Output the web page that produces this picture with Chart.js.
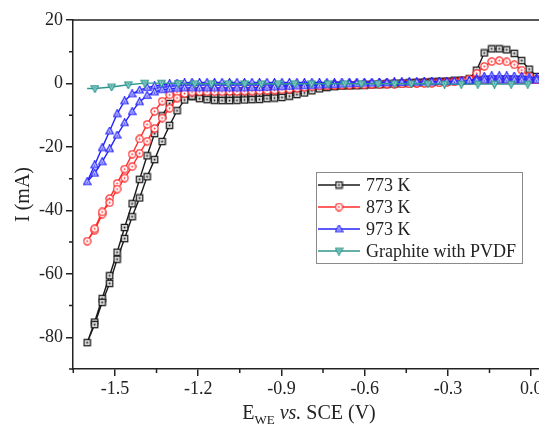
<!DOCTYPE html>
<html>
<head>
<meta charset="utf-8">
<script src="https://cdn.jsdelivr.net/npm/chart.js@4.4.1/dist/chart.umd.min.js"></script>
<style>
  html, body { margin: 0; padding: 0; background: #fff; overflow: hidden; }
  #wrap { width: 560px; height: 425px; }
</style>
</head>
<body>
<div id="wrap"><canvas id="cv" width="560" height="425"></canvas></div>
<script>
// potential grid (V vs SCE), shared by the three temperature curves
const potential = [
  -1.600, -1.573, -1.546, -1.519, -1.492, -1.465, -1.438, -1.411, -1.384, -1.357,
  -1.330, -1.303, -1.276, -1.249, -1.222, -1.195, -1.168, -1.141, -1.114, -1.087,
  -1.060, -1.033, -1.006, -0.979, -0.952, -0.925, -0.898, -0.871, -0.844, -0.817,
  -0.790, -0.763, -0.736, -0.709, -0.682, -0.655, -0.628, -0.601, -0.574, -0.547,
  -0.520, -0.493, -0.466, -0.439, -0.412, -0.385, -0.358, -0.331, -0.304, -0.277,
  -0.250, -0.223, -0.196, -0.169, -0.142, -0.115, -0.088, -0.061, -0.034, -0.007,
  0.020
];

// current (mA), cathodic sweep (fwd) and return sweep (rev)
const i773Fwd = [
  -81.7, -75.2, -67.8, -60.6, -53.2, -45.4, -37.9, -30.2, -22.8, -15.8,
  -10.2, -6.3, -4.4, -4.1, -4.0, -4.2, -4.3, -4.4, -4.4, -4.4,
  -4.3, -4.2, -4.1, -3.9, -3.6, -3.2, -2.8, -2.4, -2.0, -1.6,
  -1.3, -1.1, -0.9, -0.8, -0.7, -0.6, -0.5, -0.4, -0.3, -0.2,
  -0.1, 0.0, 0.1, 0.2, 0.3, 0.4, 0.5, 0.6, 0.7, 0.8,
  0.9, 1.0, 1.1, 1.2, 1.2, 1.3, 1.3, 1.3, 1.3, 1.2, 1.2
];
const i773Rev = [
  -81.7, -76.0, -69.0, -63.0, -55.4, -48.9, -42.0, -36.1, -29.4, -24.0,
  -18.3, -13.2, -8.6, -5.2, -4.0, -4.8, -5.1, -5.3, -5.4, -5.4,
  -5.3, -5.2, -5.1, -5.0, -4.8, -4.6, -4.4, -4.0, -3.5, -3.0,
  -2.3, -1.7, -1.3, -1.0, -0.8, -0.7, -0.6, -0.5, -0.4, -0.3,
  -0.2, -0.1, 0.0, 0.1, 0.2, 0.3, 0.4, 0.5, 0.6, 0.8,
  1.0, 1.5, 4.2, 9.6, 10.9, 10.9, 10.6, 9.5, 7.2, 4.5, 2.2
];
const i873Fwd = [
  -49.7, -46.3, -41.2, -36.3, -31.5, -27.0, -22.3, -17.5, -12.9, -8.8,
  -5.6, -3.6, -2.8, -2.4, -2.2, -2.1, -2.1, -2.1, -2.1, -2.1,
  -2.1, -2.0, -1.9, -1.8, -1.7, -1.5, -1.3, -1.1, -0.9, -0.8,
  -0.7, -0.6, -0.5, -0.4, -0.4, -0.3, -0.3, -0.2, -0.2, -0.1,
  -0.1, 0.0, 0.0, 0.1, 0.1, 0.2, 0.3, 0.4, 0.5, 0.6,
  0.7, 0.8, 1.0, 1.1, 1.1, 1.2, 1.2, 1.2, 1.2, 1.1, 1.1
];
const i873Rev = [
  -49.7, -45.8, -40.5, -37.6, -33.3, -29.8, -26.2, -22.0, -18.2, -14.2,
  -10.9, -7.8, -4.6, -3.2, -2.7, -2.6, -2.6, -2.6, -2.6, -2.5,
  -2.5, -2.4, -2.4, -2.3, -2.2, -2.1, -2.0, -1.8, -1.5, -1.2,
  -1.0, -0.8, -0.7, -0.6, -0.5, -0.5, -0.4, -0.4, -0.3, -0.3,
  -0.2, -0.2, -0.1, -0.1, 0.0, 0.0, 0.1, 0.2, 0.3, 0.5,
  0.8, 1.4, 3.2, 5.4, 6.9, 7.2, 6.8, 5.9, 4.2, 2.3, 1.2
];
const i973Fwd = [
  -31.0, -25.7, -20.3, -15.0, -9.6, -5.5, -3.3, -2.1, -1.3, -0.8,
  -0.4, -0.1, 0.1, 0.2, 0.3, 0.3, 0.3, 0.3, 0.3, 0.3,
  0.3, 0.3, 0.3, 0.3, 0.3, 0.3, 0.3, 0.3, 0.3, 0.3,
  0.3, 0.3, 0.3, 0.3, 0.4, 0.4, 0.4, 0.4, 0.4, 0.4,
  0.4, 0.5, 0.5, 0.5, 0.5, 0.5, 0.5, 0.6, 0.6, 0.6,
  0.7, 0.9, 1.6, 2.2, 2.4, 2.4, 2.4, 2.3, 2.2, 2.0, 1.8
];
const i973Rev = [
  -31.0, -28.3, -24.7, -20.6, -16.3, -12.4, -8.9, -5.8, -3.8, -2.7,
  -2.0, -1.7, -1.5, -1.4, -1.4, -1.4, -1.4, -1.4, -1.4, -1.4,
  -1.4, -1.4, -1.3, -1.3, -1.2, -1.1, -1.0, -0.9, -0.8, -0.7,
  -0.6, -0.5, -0.4, -0.3, -0.2, -0.1, 0.0, 0.1, 0.1, 0.2,
  0.2, 0.3, 0.3, 0.4, 0.4, 0.5, 0.5, 0.6, 0.6, 0.7,
  0.8, 0.9, 1.0, 1.1, 1.1, 1.1, 1.1, 1.1, 1.1, 1.1, 1.1
];

// graphite with PVDF, sparser sampling
const graphitePotential = [
  -1.600, -1.572, -1.512, -1.452, -1.392, -1.332, -1.272, -1.212, -1.152, -1.092,
  -1.032, -0.972, -0.912, -0.852, -0.792, -0.732, -0.672, -0.612, -0.552, -0.492,
  -0.432, -0.372, -0.312, -0.252, -0.192, -0.132, -0.072, -0.012
];
const graphiteCurrent = [
  -1.6, -1.6, -1.1, -0.4, 0.1, 0.1, 0.0, -0.1, -0.1, -0.1,
  -0.1, -0.1, -0.1, -0.1, -0.1, -0.1, -0.1, -0.1, -0.1, -0.1,
  -0.1, -0.1, -0.2, -0.2, -0.2, -0.2, -0.2, -0.2
];

const seriesLabels = ['773 K', '873 K', '973 K', 'Graphite with PVDF'];
const xTicks = [-1.5, -1.2, -0.9, -0.6, -0.3, 0.0];
const xMinorTicks = [-1.65, -1.35, -1.05, -0.75, -0.45, -0.15];
const yTicks = [-80, -60, -40, -20, 0, 20];
const yMinorTicks = [-90, -70, -50, -30, -10, 10];

const FONT = "'Liberation Serif', 'Times New Roman', serif";
const AXIS = '#222';

function makeMarker(shape, stroke, fill) {
  const c = document.createElement('canvas');
  c.width = 9; c.height = 9;
  const g = c.getContext('2d');
  const m = 4.5, r = 3.6;
  g.lineWidth = 1.2;
  g.strokeStyle = stroke;
  g.fillStyle = fill;
  g.beginPath();
  if (shape === 'square') {
    g.rect(m - 3.2, m - 3.2, 6.4, 6.4);
  } else if (shape === 'circle') {
    g.arc(m, m, r, 0, Math.PI * 2);
  } else if (shape === 'up') {
    g.moveTo(m, m - r - 0.3); g.lineTo(m + r, m + r * 0.75); g.lineTo(m - r, m + r * 0.75); g.closePath();
  } else {
    g.moveTo(m, m + r + 0.3); g.lineTo(m + r, m - r * 0.75); g.lineTo(m - r, m - r * 0.75); g.closePath();
  }
  g.fill();
  g.stroke();
  g.fillStyle = stroke;
  g.beginPath();
  g.arc(m, shape === 'up' ? m + 0.6 : (shape === 'down' ? m - 0.6 : m), 0.9, 0, Math.PI * 2);
  g.fill();
  return c;
}

const colors = ['#1b1b1b', '#ff2a2a', '#2424ff', '#2f978d'];
const markers = [
  makeMarker('square', '#1b1b1b', '#d9d9d9'),
  makeMarker('circle', '#ff2a2a', '#ffffff'),
  makeMarker('up', '#2424ff', '#f2f2ff'),
  makeMarker('down', '#2f978d', '#a9e2dc')
];

// one loop per curve: cathodic sweep from the right, then the return sweep
function loop(fwd, rev) {
  const pts = [];
  for (let k = potential.length - 1; k >= 0; k--) pts.push({ x: potential[k], y: fwd[k] });
  for (let k = 1; k < potential.length; k++) pts.push({ x: potential[k], y: rev[k] });
  return pts;
}

const curves = [loop(i773Fwd, i773Rev), loop(i873Fwd, i873Rev), loop(i973Fwd, i973Rev),
  graphitePotential.map((e, k) => ({ x: e, y: graphiteCurrent[k] }))];

const datasets = curves.map((pts, i) => ({
  label: seriesLabels[i],
  data: pts,
  showLine: true,
  borderColor: colors[i],
  borderWidth: 1.4,
  pointStyle: markers[i],
  pointRadius: i === 3 ? pts.map((p, k) => (k === 0 ? 0 : 4)) : 4,
  order: 4 - i
}));

const framePlugin = {
  id: 'frame',
  afterDraw(chart) {
    const { ctx, chartArea: a, scales } = chart;
    ctx.save();
    ctx.strokeStyle = AXIS;
    ctx.lineWidth = 1.5;
    ctx.beginPath();
    ctx.moveTo(a.left, a.top); ctx.lineTo(a.right, a.top); ctx.lineTo(a.right, a.bottom);
    xMinorTicks.forEach(v => {
      const x = scales.x.getPixelForValue(v);
      ctx.moveTo(x, a.bottom); ctx.lineTo(x, a.bottom + 4);
    });
    yMinorTicks.forEach(v => {
      const y = scales.y.getPixelForValue(v);
      ctx.moveTo(a.left, y); ctx.lineTo(a.left - 4, y);
    });
    ctx.stroke();

    // x axis title with subscript
    const parts = [
      { t: 'E', f: '20px ' + FONT, dy: 0 },
      { t: 'WE', f: '13px ' + FONT, dy: 5 },
      { t: ' ', f: '20px ' + FONT, dy: 0 },
      { t: 'vs.', f: 'italic 20px ' + FONT, dy: 0 },
      { t: ' SCE (V)', f: '20px ' + FONT, dy: 0 }
    ];
    let total = 0;
    parts.forEach(p => { ctx.font = p.f; p.w = ctx.measureText(p.t).width; total += p.w; });
    let x = (a.left + a.right) / 2 - total / 2;
    ctx.fillStyle = AXIS;
    ctx.textBaseline = 'alphabetic';
    parts.forEach(p => { ctx.font = p.f; ctx.fillText(p.t, x, 419 + p.dy); x += p.w; });
    ctx.restore();
  }
};

const legendPlugin = {
  id: 'boxLegend',
  afterDatasetsDraw(chart) {
    const { ctx } = chart;
    ctx.save();
    ctx.fillStyle = '#fff';
    ctx.fillRect(316, 172, 206, 91);
    ctx.strokeStyle = '#8a8a8a';
    ctx.lineWidth = 1;
    ctx.strokeRect(316.5, 172.5, 206, 91);
    ctx.font = '18px ' + FONT;
    ctx.textBaseline = 'middle';
    seriesLabels.forEach((label, i) => {
      const y = 185 + i * 22;
      ctx.strokeStyle = colors[i];
      ctx.lineWidth = 1.4;
      ctx.beginPath(); ctx.moveTo(318, y); ctx.lineTo(360, y); ctx.stroke();
      ctx.drawImage(markers[i], 339 - 4.5, y - 4.5);
      ctx.fillStyle = AXIS;
      ctx.fillText(label, 366, y + 1);
    });
    ctx.restore();
  }
};

const tickFont = { family: FONT, size: 18 };

new Chart(document.getElementById('cv'), {
  type: 'scatter',
  data: { datasets },
  options: {
    responsive: false,
    animation: false,
    layout: { padding: { top: 20, right: 15, left: 0, bottom: 0 } },
    plugins: { legend: { display: false }, tooltip: { enabled: false } },
    scales: {
      x: {
        type: 'linear',
        min: -1.651,
        max: 0.05,
        afterBuildTicks: s => { s.ticks = xTicks.map(v => ({ value: v })); },
        afterFit: s => { s.height = 56; },
        ticks: { font: tickFont, color: AXIS, padding: 2, maxRotation: 0, autoSkip: false,
          callback: v => Number(v).toFixed(1) },
        grid: { drawOnChartArea: false, drawTicks: true, tickLength: 7, color: AXIS, lineWidth: 1.5 },
        border: { display: true, color: AXIS, width: 1.5 }
      },
      y: {
        type: 'linear',
        min: -90,
        max: 20,
        afterBuildTicks: s => { s.ticks = yTicks.map(v => ({ value: v })); },
        afterFit: s => { s.width = 73; },
        ticks: { font: tickFont, color: AXIS, padding: 3, callback: v => String(v) },
        grid: { drawOnChartArea: false, drawTicks: true, tickLength: 7, color: AXIS, lineWidth: 1.5 },
        border: { display: true, color: AXIS, width: 1.5 },
        title: { display: true, text: 'I (mA)', font: { family: FONT, size: 20 }, color: AXIS,
          padding: { top: 12, bottom: 0 } }
      }
    }
  },
  plugins: [framePlugin, legendPlugin]
});
</script>
</body>
</html>
